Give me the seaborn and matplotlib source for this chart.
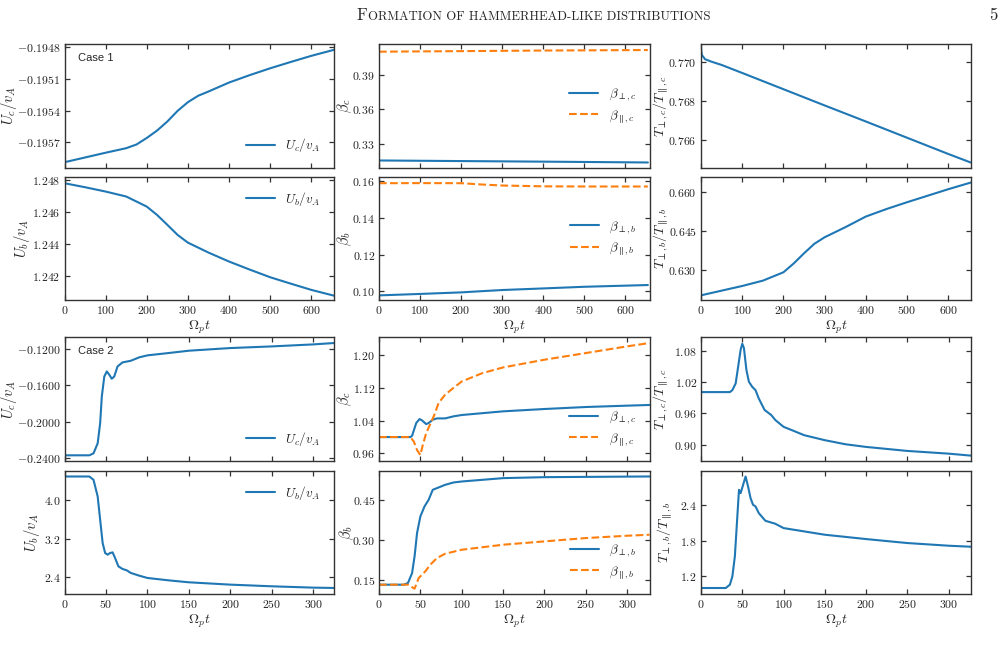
import numpy as np
import pandas as pd
import matplotlib
matplotlib.use("Agg")
import matplotlib.pyplot as plt
from matplotlib.ticker import FormatStrFormatter
import seaborn as sns

# ---------------- Case 1 ----------------
t1_uc = [0, 50, 100, 150, 175, 200, 225, 250, 275, 300, 325, 350, 400, 450, 500, 550, 600, 655]
uc1 = [-0.19589, -0.195845, -0.19580, -0.195757, -0.195722, -0.19566, -0.19559, -0.195504,
       -0.195403, -0.195321, -0.19526, -0.19522, -0.195135, -0.195065, -0.19500, -0.19494,
       -0.194882, -0.194825]

t1_ub = [0, 50, 100, 150, 200, 225, 250, 275, 300, 350, 400, 450, 500, 550, 600, 655]
ub1 = [1.24779, 1.24754, 1.24727, 1.24696, 1.24633, 1.24581, 1.24519, 1.24456, 1.24408,
       1.24346, 1.24290, 1.24240, 1.24192, 1.24152, 1.24113, 1.24077]

t1_bc = [0, 200, 400, 655]
bperp_c1 = [0.31522, 0.31470, 0.31420, 0.31348]
bpar_c1 = [0.41000, 0.41050, 0.41100, 0.41145]

t1_bb = [0, 100, 200, 250, 300, 400, 500, 655]
bperp_b1 = [0.09782, 0.09860, 0.09945, 0.10010, 0.10073, 0.10160, 0.10250, 0.10345]
bpar_b1 = [0.15890, 0.15895, 0.15890, 0.15820, 0.15764, 0.15720, 0.15710, 0.15710]

t1_tc = [0, 2, 10, 25, 50, 100, 200, 300, 400, 500, 600, 655]
tc1 = [0.77068, 0.77034, 0.77012, 0.77000, 0.76983, 0.76942, 0.76859, 0.76776, 0.76694,
       0.76611, 0.76528, 0.76484]

t1_tb = [0, 100, 150, 200, 225, 250, 275, 300, 350, 400, 450, 500, 600, 655]
tb1 = [0.62030, 0.62387, 0.62591, 0.62911, 0.63250, 0.63638, 0.64000, 0.64251, 0.64634,
       0.65043, 0.65330, 0.65591, 0.66089, 0.66345]

# ---------------- Case 2 ----------------
t2_uc = [0, 30, 35, 40, 43, 45, 48, 51, 54, 57, 60, 64, 70, 80, 90, 100, 125, 150, 200,
         250, 300, 325]
uc2 = [-0.2367, -0.2367, -0.2345, -0.2236, -0.2015, -0.1722, -0.1504, -0.1449, -0.1485,
       -0.1529, -0.1504, -0.1394, -0.1350, -0.1332, -0.1295, -0.1273, -0.1248, -0.1222,
       -0.1193, -0.1175, -0.1153, -0.1138]

t2_ub = [0, 30, 35, 40, 43, 46, 49, 52, 55, 58, 61, 65, 70, 75, 80, 90, 100, 125, 150,
         200, 250, 300, 325]
ub2 = [4.503, 4.503, 4.433, 4.084, 3.595, 3.106, 2.896, 2.861, 2.896, 2.910, 2.791, 2.616,
       2.561, 2.533, 2.477, 2.421, 2.372, 2.323, 2.281, 2.232, 2.197, 2.169, 2.162]

t2_bperp_c = [0, 38, 40, 45, 49, 52, 57, 60, 65, 70, 80, 90, 100, 150, 200, 250, 300, 327]
bperp_c2 = [1.0000, 1.0000, 1.0032, 1.0343, 1.0441, 1.0409, 1.0318, 1.0343, 1.0425, 1.0457,
            1.0457, 1.0507, 1.0540, 1.0630, 1.0687, 1.0736, 1.0769, 1.0786]
t2_bpar_c = [0, 38, 42, 46, 50, 53, 57, 62, 67, 72, 80, 90, 100, 125, 150, 200, 250, 300, 327]
bpar_c2 = [1.0000, 1.0000, 0.9893, 0.9682, 0.9560, 0.9810, 1.0097, 1.0318, 1.0548, 1.0834,
           1.1039, 1.1203, 1.1361, 1.1566, 1.1705, 1.1894, 1.2057, 1.2221, 1.2303]

t2_bperp_b = [0, 30, 35, 40, 43, 46, 50, 55, 60, 65, 70, 80, 90, 100, 150, 200, 327]
bperp_b2 = [0.1311, 0.1311, 0.1374, 0.1752, 0.2382, 0.3265, 0.3895, 0.4273, 0.4525, 0.4903,
            0.4966, 0.5092, 0.5180, 0.5218, 0.5345, 0.5382, 0.5408]
t2_bpar_b = [0, 35, 43, 48, 52, 56, 62, 70, 80, 100, 150, 200, 250, 300, 327]
bpar_b2 = [0.1311, 0.1311, 0.1160, 0.1563, 0.1689, 0.1815, 0.2067, 0.2319, 0.2483, 0.2634,
           0.2824, 0.2950, 0.3076, 0.3164, 0.3202]

t2_tc = [0, 35, 38, 42, 45, 48, 50, 52, 55, 58, 62, 66, 70, 77, 85, 90, 100, 110, 125, 150,
         175, 200, 250, 300, 327]
tc2 = [1.0007, 1.0007, 1.0045, 1.0174, 1.0496, 1.0819, 1.0935, 1.0851, 1.0432, 1.0206,
       1.0109, 1.0045, 0.9884, 0.9664, 0.9568, 0.9471, 0.9341, 0.9277, 0.9180, 0.9084,
       0.9006, 0.8955, 0.8878, 0.8826, 0.8788]

t2_tb = [0, 30, 35, 38, 41, 44, 46, 48, 51, 54, 57, 60, 63, 66, 70, 78, 90, 100, 125, 150,
         200, 250, 300, 327]
tb2 = [1.0037, 1.0037, 1.060, 1.200, 1.536, 2.209, 2.658, 2.602, 2.742, 2.882, 2.714, 2.518,
       2.406, 2.378, 2.265, 2.136, 2.086, 2.013, 1.957, 1.901, 1.828, 1.761, 1.716, 1.699]

# tick values
xt1 = [0, 100, 200, 300, 400, 500, 600]
xt2 = [0, 50, 100, 150, 200, 250, 300]
yt = {
    "uc1": [-0.1957, -0.1954, -0.1951, -0.1948],
    "ub1": [1.242, 1.244, 1.246, 1.248],
    "bc1": [0.33, 0.36, 0.39],
    "bb1": [0.10, 0.12, 0.14, 0.16],
    "tc1": [0.766, 0.768, 0.770],
    "tb1": [0.630, 0.645, 0.660],
    "uc2": [-0.24, -0.20, -0.16, -0.12],
    "ub2": [2.4, 3.2, 4.0],
    "bc2": [0.96, 1.04, 1.12, 1.20],
    "bb2": [0.15, 0.30, 0.45],
    "tc2": [0.90, 0.96, 1.02, 1.08],
    "tb2": [1.2, 1.8, 2.4],
}

sns.set_style("ticks")
plt.rcParams["mathtext.fontset"] = "cm"
plt.rcParams["font.family"] = ["cmr10", "DejaVu Serif"]
plt.rcParams["axes.unicode_minus"] = False
plt.rcParams["axes.linewidth"] = 1.0
plt.rcParams["axes.edgecolor"] = "#333333"

BLUE = "#1f77b4"
ORANGE = "#ff7f0e"

W, H = 1005, 645
fig = plt.figure(figsize=(W / 100, H / 100), dpi=100)


def box(l, r, t, b):
    return [l / W, 1 - b / H, (r - l) / W, (b - t) / H]


cols = [(64.5, 334), (379, 649.5), (701, 971)]
rows = [(44, 167.5), (176.5, 300), (337, 461), (470.5, 594)]
# right edge of each y label, figure pixels [row][col]
ylab_x = [[19, 354, 670], [32, 354, 670], [19, 354, 670], [42, 356, 674]]


def style(ax, xticks, xmax, yticks, fmt, ylim, xlab):
    ax.set_xlim(0, xmax)
    ax.set_ylim(*ylim)
    ax.set_xticks(xticks)
    ax.set_yticks(yticks)
    ax.yaxis.set_major_formatter(FormatStrFormatter("$" + fmt + "$"))
    ax.xaxis.set_major_formatter(FormatStrFormatter("$%d$"))
    ax.tick_params(direction="in", top=True, right=True, length=3.5, width=0.9,
                   labelsize=8.5, pad=3, colors="#333333", labelcolor="#222222")
    if xlab:
        ax.set_xlabel(r"$\Omega_p t$", fontsize=10, labelpad=2)
    else:
        ax.tick_params(labelbottom=False)


def line(ax, x, y, color, ls="-", label=None):
    df = pd.DataFrame({"t": x, "v": y})
    sns.lineplot(data=df, x="t", y="v", ax=ax, color=color, linestyle=ls, lw=1.5,
                 label=label, legend=False)
    ax.set_xlabel("")
    ax.set_ylabel("")


def ylab(ax, text, r, c, size=10.5):
    ax.set_ylabel(text, fontsize=size)
    left, right = cols[c]
    ax.yaxis.set_label_coords((ylab_x[r][c] - left) / (right - left), 0.5)


def leg(ax, loc):
    ax.legend(loc=loc, frameon=False, fontsize=9.5, handlelength=2.2, labelspacing=0.35,
              borderaxespad=0.6)


axs = [[fig.add_axes(box(c[0], c[1], r[0], r[1])) for c in cols] for r in rows]

# Case 1 row 1
ax = axs[0][0]
line(ax, t1_uc, uc1, BLUE, label=r"$U_c/v_A$")
style(ax, xt1, 655, yt["uc1"], "%.4f", (-0.19594, -0.19477), False)
ylab(ax, r"$U_c/v_A$", 0, 0)
leg(ax, "lower right")
ax.text(0.05, 0.86, "Case 1", transform=ax.transAxes, fontsize=8, family="Liberation Sans")

ax = axs[0][1]
line(ax, t1_bc, bperp_c1, BLUE, label=r"$\beta_{\perp,c}$")
line(ax, t1_bc, bpar_c1, ORANGE, "--", label=r"$\beta_{\parallel,c}$")
style(ax, xt1, 659, yt["bc1"], "%.2f", (0.3091, 0.4167), False)
ylab(ax, r"$\beta_c$", 0, 1)
leg(ax, "center right")

ax = axs[0][2]
line(ax, t1_tc, tc1, BLUE)
style(ax, xt1, 655, yt["tc1"], "%.3f", (0.76459, 0.7709), False)
ylab(ax, r"$T_{\perp,c}/T_{\parallel,c}$", 0, 2, 10)

# Case 1 row 2
ax = axs[1][0]
line(ax, t1_ub, ub1, BLUE, label=r"$U_b/v_A$")
style(ax, xt1, 655, yt["ub1"], "%.3f", (1.2405, 1.24821), True)
ylab(ax, r"$U_b/v_A$", 1, 0)
leg(ax, "upper right")

ax = axs[1][1]
line(ax, t1_bb, bperp_b1, BLUE, label=r"$\beta_{\perp,b}$")
line(ax, t1_bb, bpar_b1, ORANGE, "--", label=r"$\beta_{\parallel,b}$")
style(ax, xt1, 659, yt["bb1"], "%.2f", (0.0953, 0.16255), True)
ylab(ax, r"$\beta_b$", 1, 1)
leg(ax, "center right")

ax = axs[1][2]
line(ax, t1_tb, tb1, BLUE)
style(ax, xt1, 655, yt["tb1"], "%.3f", (0.61851, 0.66574), True)
ylab(ax, r"$T_{\perp,b}/T_{\parallel,b}$", 1, 2, 10)

# Case 2 row 3
ax = axs[2][0]
line(ax, t2_uc, uc2, BLUE, label=r"$U_c/v_A$")
style(ax, xt2, 325, yt["uc2"], "%.4f", (-0.24293, -0.1072), False)
ylab(ax, r"$U_c/v_A$", 2, 0)
leg(ax, "lower right")
ax.text(0.05, 0.86, "Case 2", transform=ax.transAxes, fontsize=8, family="Liberation Sans")

ax = axs[2][1]
line(ax, t2_bperp_c, bperp_c2, BLUE, label=r"$\beta_{\perp,c}$")
line(ax, t2_bpar_c, bpar_c2, ORANGE, "--", label=r"$\beta_{\parallel,c}$")
style(ax, xt2, 327, yt["bc2"], "%.2f", (0.9414, 1.245), False)
ylab(ax, r"$\beta_c$", 2, 1)
leg(ax, "lower right")

ax = axs[2][2]
line(ax, t2_tc, tc2, BLUE)
style(ax, xt2, 327, yt["tc2"], "%.2f", (0.8685, 1.1064), False)
ylab(ax, r"$T_{\perp,c}/T_{\parallel,c}$", 2, 2, 10)

# Case 2 row 4
ax = axs[3][0]
line(ax, t2_ub, ub2, BLUE, label=r"$U_b/v_A$")
style(ax, xt2, 325, yt["ub2"], "%.1f", (2.0353, 4.629), True)
ylab(ax, r"$U_b/v_A$", 3, 0)
leg(ax, "upper right")

ax = axs[3][1]
line(ax, t2_bperp_b, bperp_b2, BLUE, label=r"$\beta_{\perp,b}$")
line(ax, t2_bpar_b, bpar_b2, ORANGE, "--", label=r"$\beta_{\parallel,b}$")
style(ax, xt2, 327, yt["bb2"], "%.2f", (0.0958, 0.5634), True)
ylab(ax, r"$\beta_b$", 3, 1)
leg(ax, "lower right")

ax = axs[3][2]
line(ax, t2_tb, tb2, BLUE)
style(ax, xt2, 327, yt["tb2"], "%.1f", (0.9028, 2.983), True)
ylab(ax, r"$T_{\perp,b}/T_{\parallel,b}$", 3, 2, 10)

# header in small caps
f_txt = fig.text(356 / W, 1 - 20 / H, "F", fontsize=12, family="cmr10", va="baseline")
fig.canvas.draw()
ann = plt.annotate("ORMATION OF HAMMERHEAD-LIKE DISTRIBUTIONS", xy=(1, 0), xycoords=f_txt,
                   xytext=(0.6, 0), textcoords="offset points", fontsize=9.2,
                   family="cmr10", va="bottom", ha="left")
fig.text(993 / W, 1 - 20 / H, "5", fontsize=12, family="cmr10", va="baseline", ha="center")

fig.savefig("out.png", dpi=100)
